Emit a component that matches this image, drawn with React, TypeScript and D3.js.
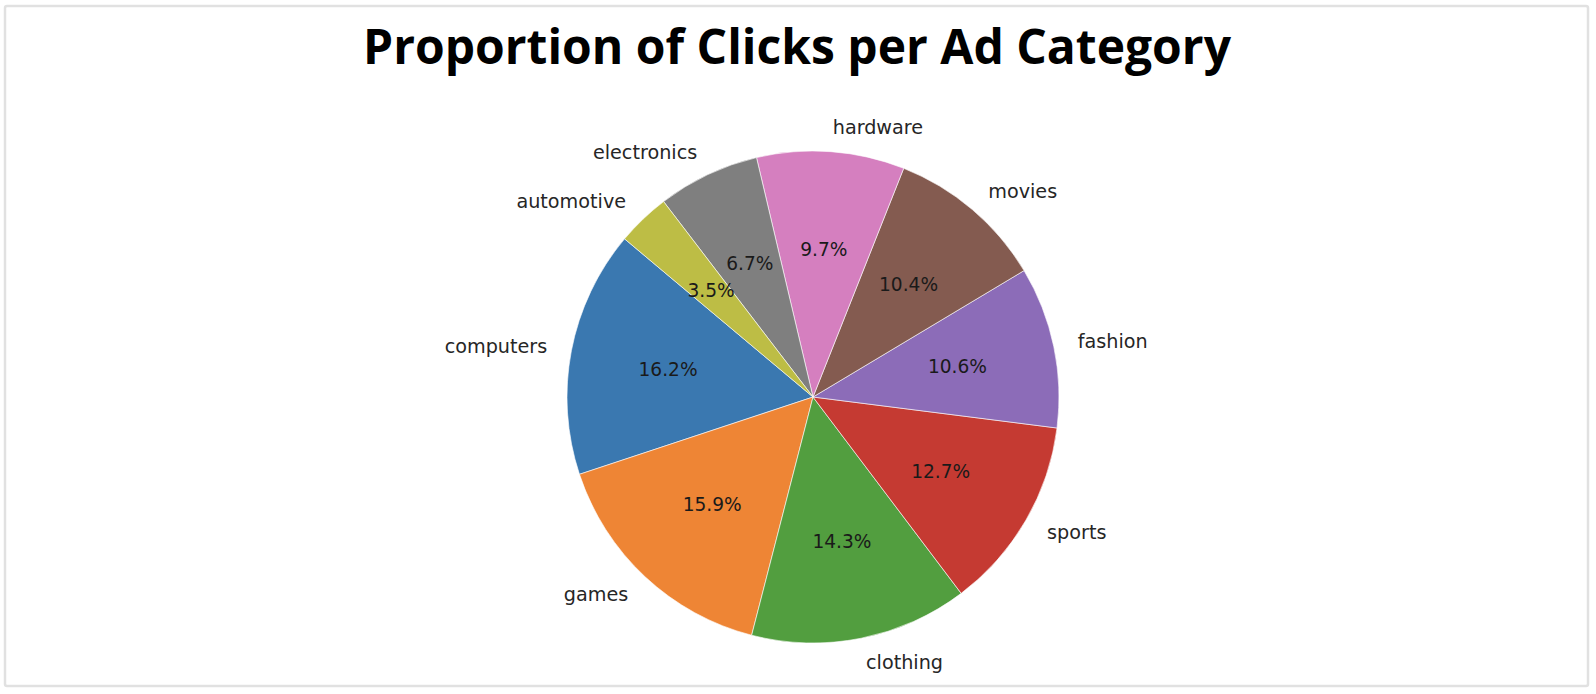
import React, { useEffect, useRef } from 'react';
import * as d3 from 'd3';

const categories = ['computers', 'games', 'clothing', 'sports', 'fashion', 'movies', 'hardware', 'electronics', 'automotive'];
const shares = [16.2, 15.9, 14.3, 12.7, 10.6, 10.4, 9.7, 6.7, 3.5];
const sliceColors = ['#3a78b0', '#ee8535', '#529e3f', '#c53a32', '#8c6cb8', '#845b50', '#d57fbf', '#7f7f7f', '#bdbd45'];

const width = 1596;
const height = 694;

const App = () => {
  const ref = useRef<SVGSVGElement>(null);

  useEffect(() => {
    document.body.style.margin = '0';
    const svg = d3.select(ref.current);
    svg.selectAll('*').remove();

    svg.append('rect')
      .attr('x', 5).attr('y', 6)
      .attr('width', 1583).attr('height', 680)
      .attr('rx', 2)
      .attr('fill', '#fff')
      .attr('stroke', '#e1e1e1')
      .attr('stroke-width', 2.5);

    svg.append('text')
      .attr('x', 797)
      .attr('y', 64)
      .attr('text-anchor', 'middle')
      .style('font-family', '"Open Sans", sans-serif')
      .style('font-weight', 700)
      .style('font-size', '48px')
      .attr('fill', '#000')
      .text('Proportion of Clicks per Ad Category');

    const cx = 813;
    const cy = 397;
    const radius = 246;

    const data = categories.map((c, i) => ({ key: c, value: shares[i], color: sliceColors[i] }));

    // matplotlib style: counter-clockwise from 140 degrees
    const start = ((90 - 140) * Math.PI) / 180;
    const pie = d3.pie<any>()
      .sort(null)
      .value((d) => d.value)
      .startAngle(start)
      .endAngle(start - 2 * Math.PI);

    const arc = d3.arc<any>().innerRadius(0).outerRadius(radius);
    const g = svg.append('g').attr('transform', `translate(${cx},${cy})`);
    const arcs = pie(data);

    g.selectAll('path')
      .data(arcs)
      .enter()
      .append('path')
      .attr('d', arc)
      .attr('fill', (d) => d.data.color)
      .attr('stroke', '#fff')
      .attr('stroke-width', 0.6);

    const mid = (d: any) => (d.startAngle + d.endAngle) / 2;

    g.selectAll('text.lbl')
      .data(arcs)
      .enter()
      .append('text')
      .attr('class', 'lbl')
      .attr('x', (d) => 1.1 * radius * Math.sin(mid(d)))
      .attr('y', (d) => -1.1 * radius * Math.cos(mid(d)))
      .attr('dy', '0.35em')
      .attr('text-anchor', (d) => (Math.sin(mid(d)) > 0 ? 'start' : 'end'))
      .style('font-family', '"DejaVu Sans", sans-serif')
      .style('font-size', '19.2px')
      .attr('fill', '#262626')
      .text((d) => d.data.key);

    g.selectAll('text.pct')
      .data(arcs)
      .enter()
      .append('text')
      .attr('class', 'pct')
      .attr('x', (d) => 0.6 * radius * Math.sin(mid(d)))
      .attr('y', (d) => -0.6 * radius * Math.cos(mid(d)))
      .attr('dy', '0.35em')
      .attr('text-anchor', 'middle')
      .style('font-family', '"DejaVu Sans", sans-serif')
      .style('font-size', '18.6px')
      .attr('fill', '#1a1a1a')
      .text((d) => `${d.data.value.toFixed(1)}%`);
  }, []);

  return <svg ref={ref} width={width} height={height} style={{ display: 'block' }} />;
};

export default App;
